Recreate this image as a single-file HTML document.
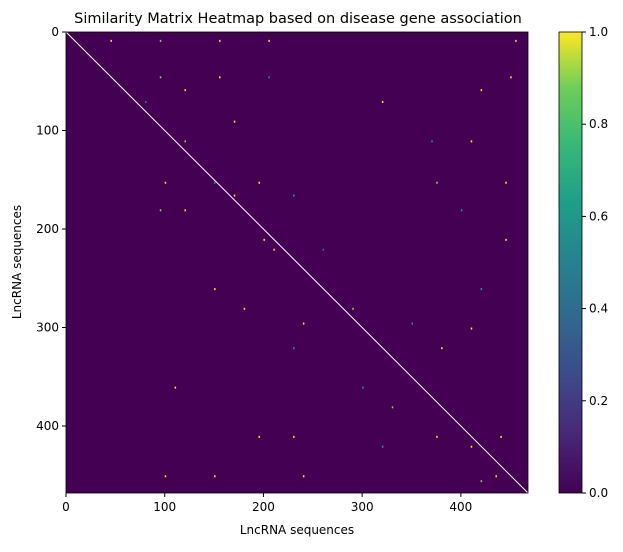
<!DOCTYPE html>
<html><head><meta charset="utf-8"><style>
body{margin:0;background:#fff;font-family:"Liberation Sans","DejaVu Sans",sans-serif;}
svg text{font-family:"DejaVu Sans","Liberation Sans",sans-serif;font-size:12px;fill:#000;}
</style></head><body>
<svg id="chart" width="623" height="547" xmlns="http://www.w3.org/2000/svg">
<defs><linearGradient id="vir" x1="0" y1="1" x2="0" y2="0">
<stop offset="0" stop-color="#440154"/><stop offset="0.13" stop-color="#482878"/><stop offset="0.25" stop-color="#3e4989"/><stop offset="0.38" stop-color="#31688e"/><stop offset="0.5" stop-color="#26828e"/><stop offset="0.63" stop-color="#1f9e89"/><stop offset="0.75" stop-color="#35b779"/><stop offset="0.88" stop-color="#6ece58"/><stop offset="1" stop-color="#fde725"/></linearGradient></defs>
<text x="298" y="23" text-anchor="middle" style="font-size:14.5px">Similarity Matrix Heatmap based on disease gene association</text>
<g id="plot"></g>
<rect x="559" y="32" width="23" height="461" fill="url(#vir)" stroke="#000" stroke-width="0.8"/>
<g id="cbticks"></g>
<text x="297" y="534" text-anchor="middle">LncRNA sequences</text>
<text transform="translate(21,262) rotate(-90)" text-anchor="middle">LncRNA sequences</text>
</svg>
<script>
const N = 468;
const tickValues = [0,100,200,300,400];
const cbTicks = [0.0,0.2,0.4,0.6,0.8,1.0];
const cellRows = [8,8,8,8,8,45,45,45,45,58,58,70,70,90,110,110,110,152,152,152,152,152,165,165,180,180,180,210,210,220,220,260,260,280,280,295,295,300,320,320,360,360,380,410,410,410,410,420,420,450,450,450,450,455];
const cellCols = [45,95,155,205,455,95,155,205,450,120,420,80,320,170,120,370,410,100,150,195,375,445,170,230,95,120,400,200,445,210,260,150,420,180,290,240,350,410,380,230,110,300,330,195,230,375,440,320,410,100,150,240,435,420];
const cellVals = [1,0.9,1,1,1,0.9,1,0.6,1,1,1,0.5,1,1,0.9,0.6,1,1,0.6,1,0.9,1,1,0.6,0.9,1,0.6,1,1,1,0.5,1,0.6,1,0.9,1,0.6,1,1,0.6,1,0.6,0.9,1,1,1,1,0.6,1,1,1,1,1,0.9];
const X0=66,Y0=32,W=462,H=461;
const sx=v=>X0+v/N*W, sy=v=>Y0+v/N*H;
function vir(t){const s=[[68,1,84],[72,40,120],[62,73,137],[49,104,142],[38,130,142],[31,158,137],[53,183,121],[110,206,88],[253,231,37]];
 const p=t*8,i=Math.min(7,Math.floor(p)),f=p-i;return 'rgb('+s[i].map((c,k)=>Math.round(c+(s[i+1][k]-c)*f)).join(',')+')';}
const ns='http://www.w3.org/2000/svg',g=document.getElementById('plot');
function mk(t,a,p){const e=document.createElementNS(ns,t);for(const k in a)e.setAttribute(k,a[k]);(p||g).appendChild(e);return e;}
const bg=mk('rect',{x:X0,y:Y0,width:W,height:H,fill:'#440154'});


for(let i=0;i<cellRows.length;i++){
 const c=mk('rect',{x:sx(cellCols[i]),y:sy(cellRows[i]),width:1.5,height:2,fill:vir(cellVals[i])});
 
 
}
const d=mk('line',{x1:sx(0),y1:sy(0),x2:sx(N),y2:sy(N),stroke:'#fde725','stroke-width':1});


d.setAttribute('stroke','#fff');
const fr=mk('rect',{x:X0,y:Y0,width:W,height:H,fill:'none',stroke:'#000','stroke-width':0.8});


tickValues.forEach(v=>{
 mk('line',{x1:sx(v),y1:Y0+H,x2:sx(v),y2:Y0+H+4,stroke:'#000'});
 const tx=mk('text',{x:sx(v),y:Y0+H+18,'text-anchor':'middle'});tx.textContent=v;
 
 
 mk('line',{x1:X0-4,y1:sy(v),x2:X0,y2:sy(v),stroke:'#000'});
 const ty=mk('text',{x:X0-7,y:sy(v)+4,'text-anchor':'end'});ty.textContent=v;
 
 
});
const cg=document.getElementById('cbticks');
cbTicks.forEach(v=>{const y=493-v*461;
 mk('line',{x1:582,y1:y,x2:586,y2:y,stroke:'#000'},cg);
 const t=mk('text',{x:589,y:y+4},cg);t.textContent=v.toFixed(1);
 
 
});
</script>
</body></html>
